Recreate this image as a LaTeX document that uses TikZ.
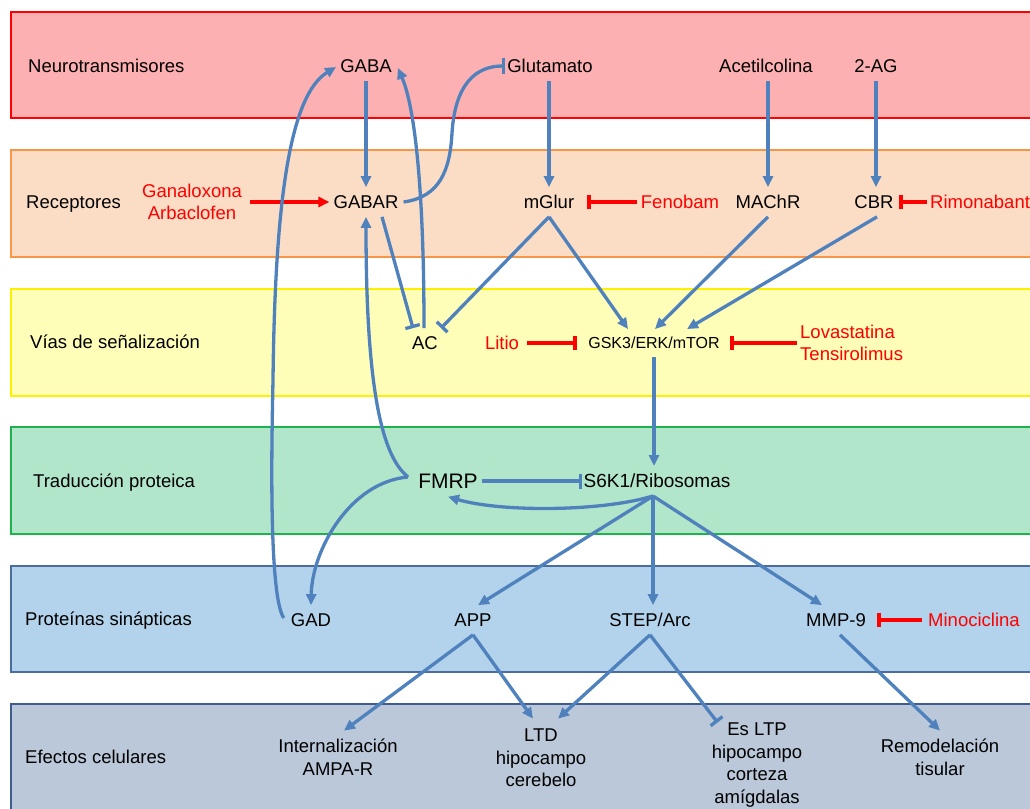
\documentclass[tikz,border=0pt]{standalone}
\usepackage{fontspec}
\setmainfont{Liberation Sans}
\usetikzlibrary{arrows.meta,calc}
\definecolor{cblue}{HTML}{4F81BD}
\definecolor{bRedF}{HTML}{FDB0B1}\definecolor{bRedD}{HTML}{FF0000}
\definecolor{bPeaF}{HTML}{FBDDC5}\definecolor{bPeaD}{HTML}{F79646}
\definecolor{bYelF}{HTML}{FEFEB9}\definecolor{bYelD}{HTML}{FFF000}
\definecolor{bGreF}{HTML}{B2E6CA}\definecolor{bGreD}{HTML}{1DB24C}
\definecolor{bBluF}{HTML}{B2D3EB}\definecolor{bBluD}{HTML}{4A6C9E}
\definecolor{bGryF}{HTML}{BAC8D9}\definecolor{bGryD}{HTML}{3E5C92}
\newcommand\myfs{\fontsize{18.5}{22.7}\selectfont}
\newcommand\gskfs{\fontsize{16}{19}\selectfont}
\newcommand\fmrpfs{\fontsize{21}{25}\selectfont}
\newcommand\sixfs{\fontsize{19}{23}\selectfont}
\begin{document}
\begin{tikzpicture}[x=1pt,y=-1pt,
  band/.style={line width=1.5pt},
  nd/.style={inner xsep=2pt, inner ysep=8pt, text height=13.3pt, text depth=0pt, font=\myfs},
  lbl/.style={nd, anchor=west, inner xsep=0pt},
  drug/.style={inner sep=0pt, font=\myfs, text=red},
  eff/.style={inner sep=0pt, font=\myfs, align=center},
  act/.style={cblue, line width=3.3pt, -{Triangle[length=11pt,width=10pt]}},
  inh/.style={cblue, line width=3.3pt, -{Bar[width=15pt,line width=3.3pt]}},
  ract/.style={red, line width=3.8pt, -{Triangle[length=11pt,width=10pt]}},
  rinh/.style={red, line width=3.8pt, -{Bar[width=14pt,line width=3.8pt]}}]
\useasboundingbox (0,0) rectangle (1030,808);
% bands
\filldraw[band, fill=bRedF, draw=bRedD] (11,12) rectangle (1045,118);
\filldraw[band, fill=bPeaF, draw=bPeaD] (11,150) rectangle (1045,257);
\filldraw[band, fill=bYelF, draw=bYelD] (11,289) rectangle (1045,396);
\filldraw[band, fill=bGreF, draw=bGreD] (11,427) rectangle (1045,534);
\filldraw[band, fill=bBluF, draw=bBluD] (11,566) rectangle (1045,672);
\filldraw[band, fill=bGryF, draw=bGryD] (11,704) rectangle (1045,830);
% band labels
\node[lbl] (l1) at (28,66) {Neurotransmisores};
\node[lbl] (l2) at (26,202) {Receptores};
\node[lbl] (l3) at (30,342) {Vías de señalización};
\node[lbl] (l4) at (33,481) {Traducción proteica};
\node[lbl] (l5) at (25,619) {Proteínas sinápticas};
\node[lbl] (l6) at (25,757) {Efectos celulares};
% row 1
\node[nd] (gaba) at (366,66) {GABA};
\node[nd] (glu) at (550,66) {Glutamato};
\node[nd] (ace) at (766,66) {Acetilcolina};
\node[nd] (ag) at (876,66) {2-AG};
% row 2
\node[drug, align=center] (gan) at (192,202) {Ganaloxona\\Arbaclofen};
\node[nd] (gabar) at (366,202) {GABAR};
\node[nd] (mglur) at (549,202) {mGlur};
\node[nd, text=red] (fen) at (680,202) {Fenobam};
\node[nd] (machr) at (768,202) {MAChR};
\node[nd] (cbr) at (874,202) {CBR};
\node[nd, text=red, anchor=west] (rim) at (928,202) {Rimonabant};
% row 3
\node[nd] (ac) at (425,343) {AC};
\node[nd, text=red] (lit) at (502,343) {Litio};
\node[nd, font=\gskfs, text height=11.5pt] (gsk) at (654,343) {GSK3/ERK/mTOR};
\node[drug, align=left, anchor=west] (lov) at (800,343) {Lovastatina\\Tensirolimus};
% row 4
\node[nd, font=\fmrpfs, text height=15pt] (fmrp) at (448,481) {FMRP};
\node[nd, font=\sixfs, text height=13.6pt] (s6k) at (657,481) {S6K1/Ribosomas};
% row 5
\node[nd] (gad) at (311,620) {GAD};
\node[nd] (app) at (473,620) {APP};
\node[nd] (step) at (650,620) {STEP/Arc};
\node[nd] (mmp) at (836,620) {MMP-9};
\node[nd, text=red, anchor=west] (mino) at (926,620) {Minociclina};
% row 6
\node[eff] (int) at (338,757) {Internalización\\AMPA-R};
\node[eff] (ltd) at (541,758) {LTD\\hipocampo\\cerebelo};
\node[eff] (ltp) at (757,765) {Es LTP\\hipocampo\\corteza\\amígdalas};
\node[eff] (rem) at (940,757) {Remodelación\\tisular};
% connectors
\draw[act] (gaba.south) -- (gabar.north);
\draw[act] (mglur.north |- glu.south) -- (mglur.north);
\draw[act] (machr.north |- ace.south) -- (machr.north);
\draw[act] (ag.south) -- (ag.south |- cbr.north);
\draw[inh] ([xshift=3pt]gabar.east) .. controls (440,197) and (450,170) .. (452,133)
  .. controls (455,85) and (475,66) .. (glu.west);
\draw[act] ([xshift=-1pt]ac.north) .. controls (424,200) and (416,110) .. ([xshift=4pt,yshift=-2pt]gaba.east);
\draw[inh] ([xshift=16pt]gabar.south) -- ([xshift=-12pt]ac.north);
\draw[inh] (mglur.south) -- ([xshift=16pt]ac.north);
\draw[act] (mglur.south) -- ([xshift=-26pt]gsk.north);
\draw[act] (machr.south) -- ([xshift=1pt]gsk.north);
\draw[act] ([xshift=3pt]cbr.south) -- ([xshift=33pt]gsk.north);
\draw[rinh] ([xshift=-2pt]fen.west) -- ([xshift=11pt]mglur.east);
\draw[rinh] ([xshift=-1pt]rim.west) -- ([xshift=3pt]cbr.east);
\draw[ract] ([xshift=8pt]gan.east) -- ([xshift=-2pt]gabar.west);
\draw[rinh] ([xshift=6pt]lit.east) -- ([xshift=-9pt]gsk.west);
\draw[rinh] ([xshift=-3pt]lov.west) -- ([xshift=8pt]gsk.east);
\draw[act] (gsk.south) -- (gsk.south |- s6k.north);
\draw[inh] ([xshift=2pt]fmrp.east) -- ([xshift=1pt]s6k.west);
\draw[act] ([xshift=-4pt]s6k.south) .. controls (600,512) and (500,512) .. (fmrp.south);
\draw[act] ([xshift=-4pt]s6k.south) -- ([xshift=5pt]app.north);
\draw[act] ([xshift=-4pt]s6k.south) -- ([xshift=3pt]step.north);
\draw[act] ([xshift=-4pt]s6k.south) -- ([xshift=-14pt]mmp.north);
\draw[act] ([xshift=-8pt,yshift=4pt]fmrp.west) .. controls (380,455) and (366,380) .. (gabar.south);
\draw[act] ([xshift=-8pt,yshift=4pt]fmrp.west) .. controls (350,482) and (312,550) .. (gad.north);
\draw[act] ([xshift=-5pt,yshift=2pt]gad.west) .. controls (268,595) and (272,430) .. (273,380)
  .. controls (275,200) and (290,95) .. ([xshift=-2pt,yshift=-1pt]gaba.west);
\draw[rinh] ([xshift=-4pt]mino.west) -- ([xshift=9pt]mmp.east);
\draw[act] (app.south) -- ([xshift=6pt,yshift=8pt]int.north);
\draw[act] (app.south) -- ([xshift=-8pt,yshift=10pt]ltd.north);
\draw[act] (step.south) -- ([xshift=17pt,yshift=10pt]ltd.north);
\draw[inh] (step.south) -- ([xshift=6pt]ltp.north west);
\draw[act] ([xshift=4pt]mmp.south) -- ([xshift=0pt,yshift=8pt]rem.north);
\end{tikzpicture}
\end{document}
